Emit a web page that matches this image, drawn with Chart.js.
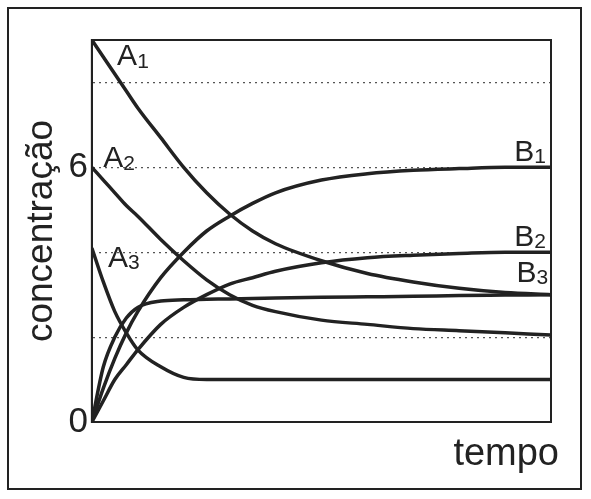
<!DOCTYPE html>
<html><head><meta charset="utf-8">
<script src="https://cdn.jsdelivr.net/npm/chart.js@4"></script>
<style>
html,body{margin:0;padding:0;background:#fff;}
#wrap{position:absolute;left:7px;top:7px;width:575px;height:483px;border:2px solid #222;box-sizing:border-box;}
#c{position:absolute;left:0;top:0;}
</style></head><body>
<div id="wrap"></div>
<canvas id="c" width="591" height="499"></canvas>
<script>
const xs = [0,0.25,0.5,0.75,1,1.5,2,2.5,3,3.5,4,5,6,7,8,9,10];
const A1 = [9,8.6,8.2,7.8,7.4,6.7,6.0,5.4,4.9,4.5,4.2,3.8,3.5,3.3,3.15,3.05,3.0];
const A2 = [6,5.7,5.4,5.1,4.85,4.3,3.8,3.35,3.0,2.75,2.6,2.4,2.3,2.2,2.15,2.1,2.05];
const A3 = [4.1,3.3,2.6,2.1,1.7,1.3,1.05,1.0,1.0,1.0,1.0,1.0,1.0,1.0,1.0,1.0,1.0];
const B1 = [0,0.8,1.5,2.1,2.6,3.4,4.0,4.5,4.85,5.15,5.4,5.7,5.85,5.93,5.97,6,6];
const B2 = [0,0.5,1.0,1.35,1.7,2.3,2.7,3.0,3.25,3.4,3.55,3.75,3.87,3.93,3.97,4,4];
const B3 = [0,1.3,2.0,2.45,2.7,2.85,2.88,2.89,2.9,2.91,2.92,2.94,2.95,2.96,2.98,2.99,3.0];
const yTicks = [0,3,6,9];
const curveLabels = [
  {t:'A',s:'1',x:0.55,y:8.6},{t:'A',s:'2',x:0.25,y:6.2},{t:'A',s:'3',x:0.35,y:3.85},
  {t:'B',s:'1',x:9.2,y:6.35},{t:'B',s:'2',x:9.2,y:4.35},{t:'B',s:'3',x:9.25,y:3.5}
];
const series = [A1,A2,A3,B1,B2,B3];
const labelPlugin = {
  id:'lbl',
  afterDraw(ch){
    const c=ch.ctx, xS=ch.scales.x, yS=ch.scales.y;
    c.save(); c.fillStyle='#222'; c.textBaseline='middle';
    curveLabels.forEach(l=>{
      const px=xS.getPixelForValue(l.x), py=yS.getPixelForValue(l.y);
      c.font='30px "Liberation Sans", Arial';
      c.fillText(l.t,px,py);
      const w=c.measureText(l.t).width;
      c.font='21px "Liberation Sans", Arial';
      c.fillText(l.s,px+w,py+5);
    });
    c.font='38px "Liberation Sans", Arial';
    c.textAlign='right'; c.fillText('tempo',ch.chartArea.right+8,455);
    c.restore();
  }
};
new Chart(document.getElementById('c'),{
  type:'line',
  data:{datasets: series.map(s=>({data: xs.map((x,i)=>({x:x,y:s[i]})), borderColor:'#222', borderWidth:3.5, pointRadius:0, cubicInterpolationMode:'monotone', fill:false}))},
  options:{
    responsive:false, animation:false,
    layout:{padding:{left:20,top:40,right:40,bottom:77}},
    plugins:{legend:{display:false},tooltip:{enabled:false}},
    scales:{
      x:{type:'linear',min:0,max:10,ticks:{display:false},grid:{display:false,drawTicks:false},border:{color:'#222',width:2}},
      y:{min:0,max:9,ticks:{stepSize:1,color:'#222',padding:4,font:{size:35,family:'"Liberation Sans", Arial'},callback:v=>yTicks.includes(v)?String(v):''},
        grid:{color:'#555',lineWidth:1.2,drawTicks:false},border:{color:'#222',width:2,dash:[2,4]},
        title:{display:true,text:'concentração',color:'#222',font:{size:37,family:'"Liberation Sans", Arial'},padding:0}}
    }
  },
  plugins:[labelPlugin,{id:'frame',beforeDatasetsDraw(ch){const a=ch.chartArea,c=ch.ctx;c.save();c.strokeStyle='#222';c.lineWidth=2;c.setLineDash([]);c.strokeRect(a.left,a.top,a.right-a.left,a.bottom-a.top);c.restore();}}]
});
</script>
</body></html>
